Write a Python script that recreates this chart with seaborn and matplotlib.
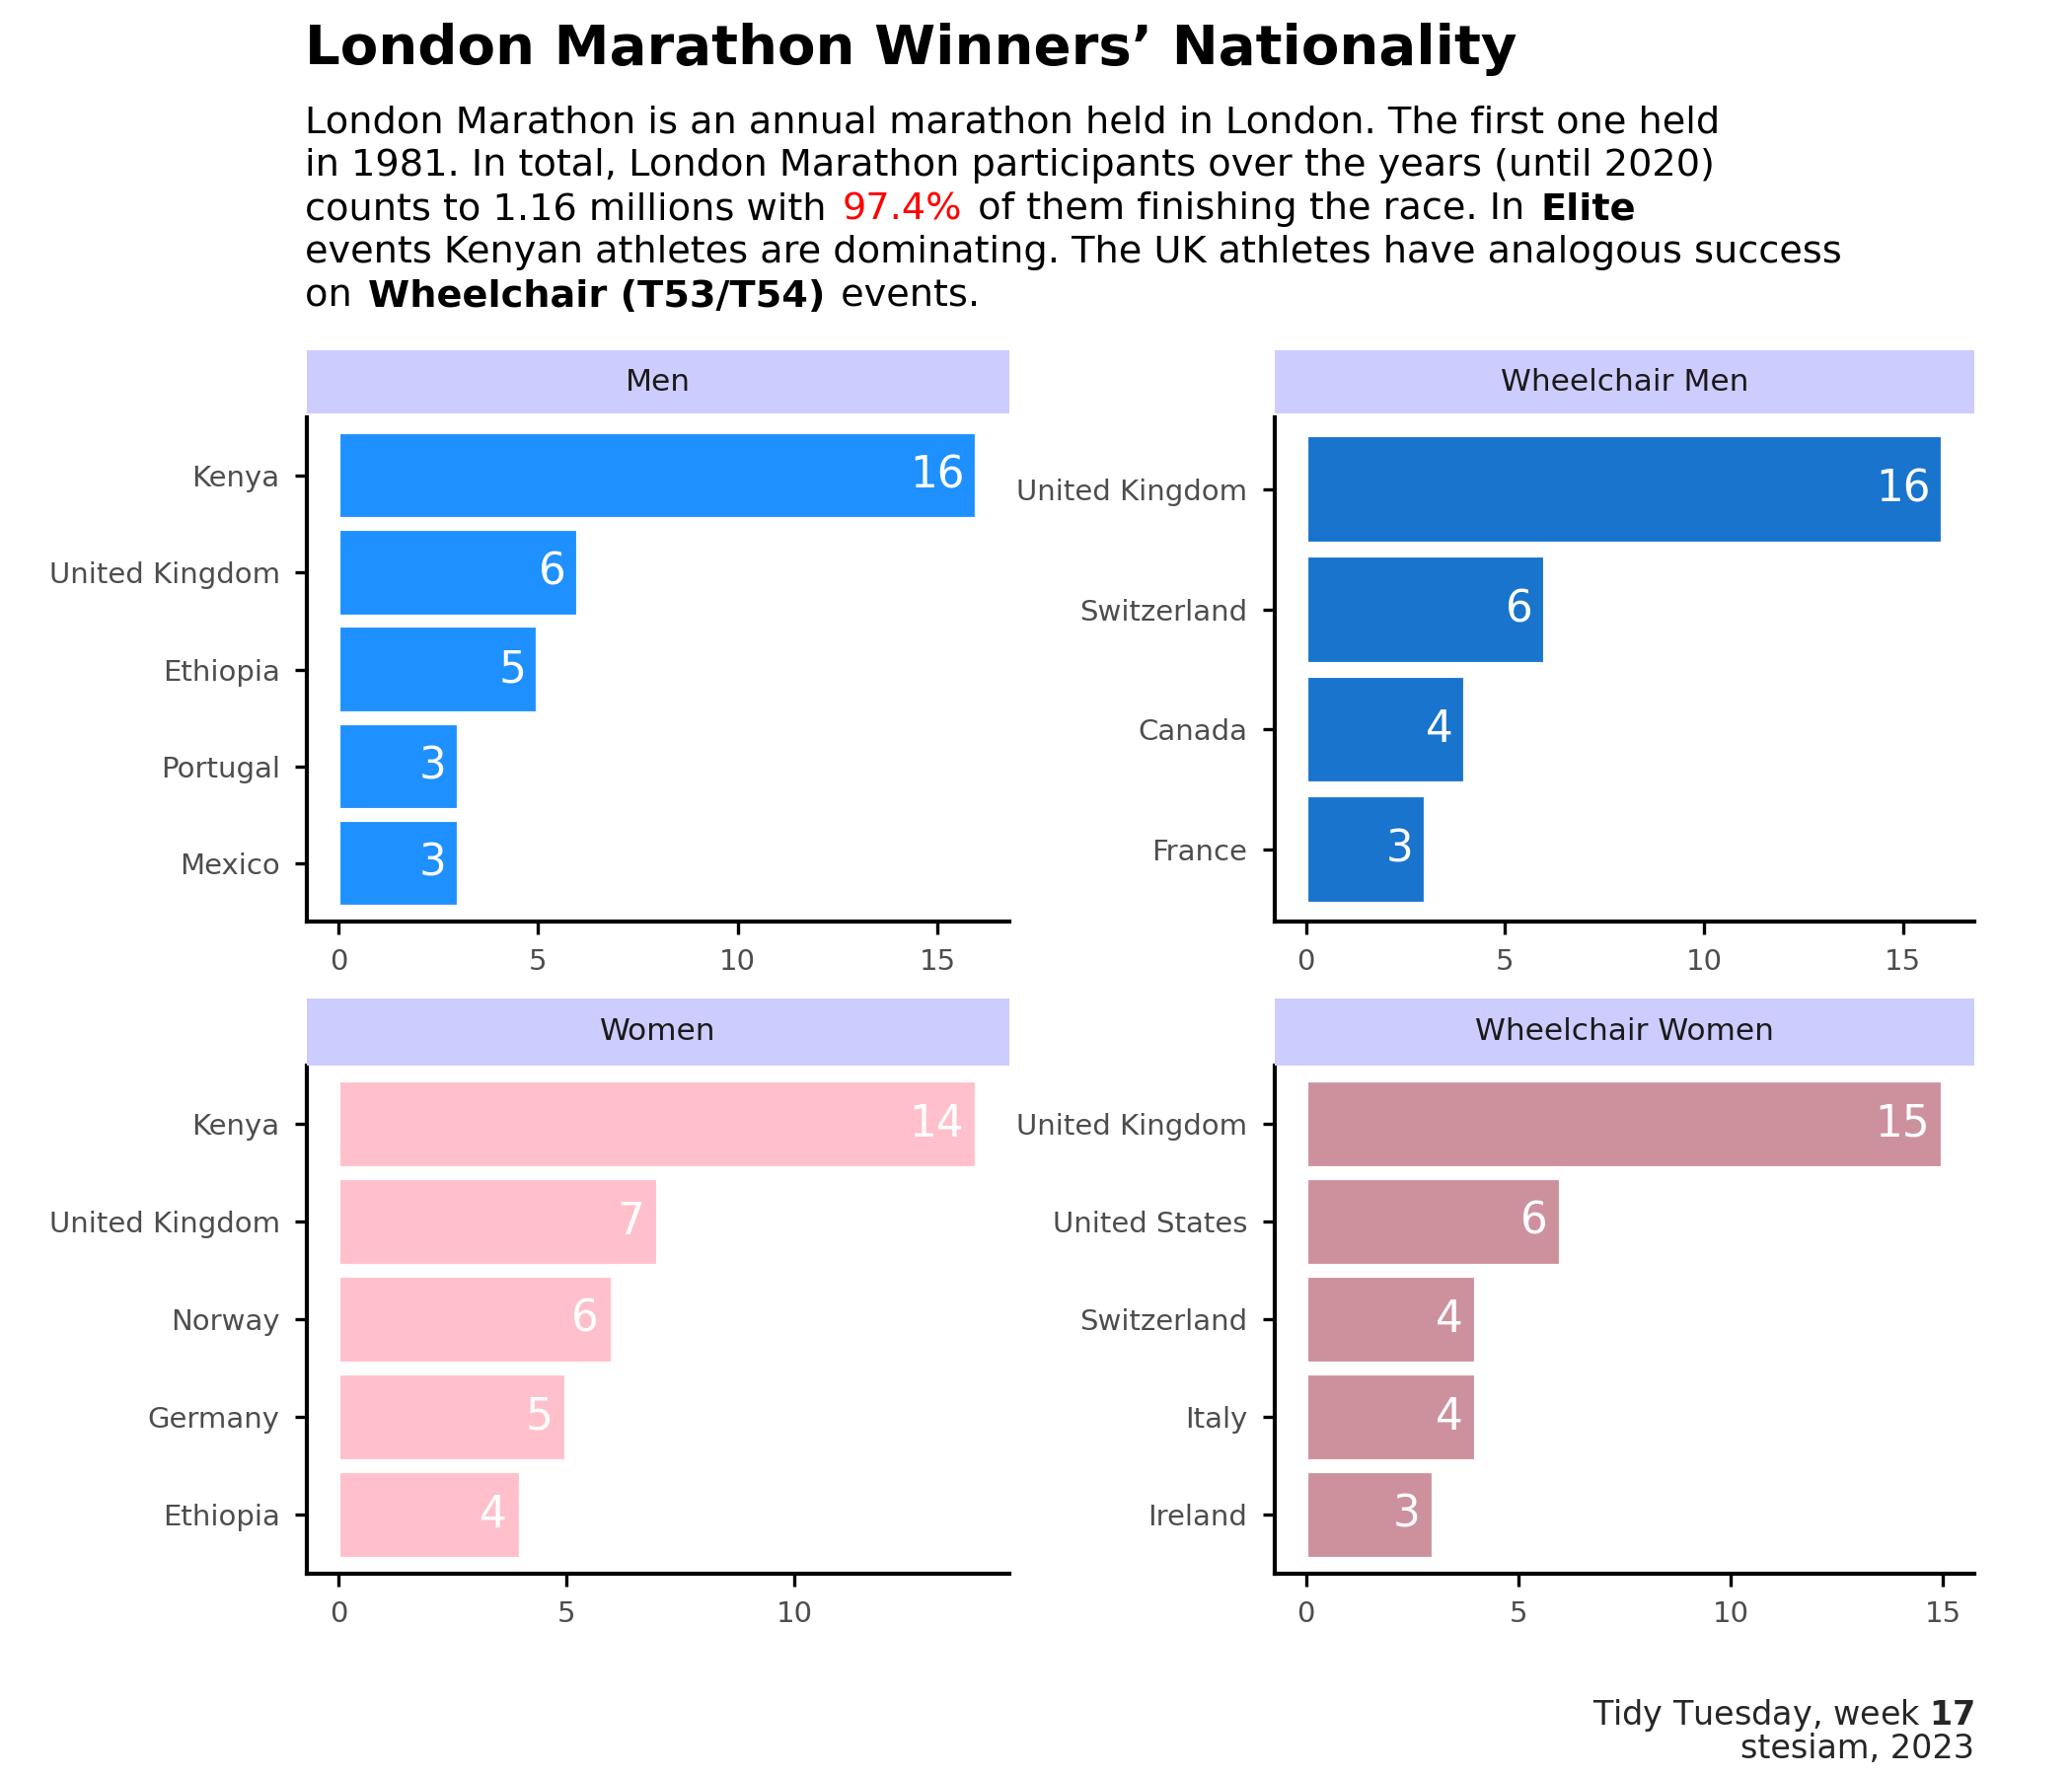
import matplotlib
matplotlib.use("Agg")
import matplotlib.pyplot as plt
import seaborn as sns
import pandas as pd

# data
men_countries = ["Kenya", "United Kingdom", "Ethiopia", "Portugal", "Mexico"]
men_wins = [16, 6, 5, 3, 3]
wmen_countries = ["United Kingdom", "Switzerland", "Canada", "France"]
wmen_wins = [16, 6, 4, 3]
women_countries = ["Kenya", "United Kingdom", "Norway", "Germany", "Ethiopia"]
women_wins = [14, 7, 6, 5, 4]
wwomen_countries = ["United Kingdom", "United States", "Switzerland", "Italy", "Ireland"]
wwomen_wins = [15, 6, 4, 4, 3]

sns.set_style("white")
fam = ["DejaVu Sans"]
plt.rcParams["font.family"] = fam

fig = plt.figure(figsize=(7, 6), dpi=300)

panels = [
    ("Men", men_countries, men_wins, "#1E90FF", [0.148, 0.481, 0.339, 0.284], [0.148, 0.767, 0.339, 0.036]),
    ("Wheelchair Men", wmen_countries, wmen_wins, "#1874CD", [0.615, 0.481, 0.338, 0.284], [0.615, 0.767, 0.338, 0.036]),
    ("Women", women_countries, women_wins, "#FFC0CB", [0.148, 0.114, 0.339, 0.286], [0.148, 0.400, 0.339, 0.038]),
    ("Wheelchair Women", wwomen_countries, wwomen_wins, "#CD919E", [0.615, 0.114, 0.338, 0.286], [0.615, 0.400, 0.338, 0.038]),
]

for name, countries, wins, color, rect, srect in panels:
    ax = fig.add_axes(rect)
    df = pd.DataFrame({"country": countries, "wins": wins})
    sns.barplot(data=df, x="wins", y="country", orient="h", color=color,
                width=0.9, saturation=1, ax=ax)
    mx = max(wins)
    ax.set_xlim(-0.05 * mx, mx * 1.05)
    ax.set_ylim(len(countries) - 0.4, -0.6)
    for i, v in enumerate(wins):
        ax.text(v - 0.3, i, str(v), color="white", ha="right", va="center", fontsize=10.5)
    ax.set_xlabel("")
    ax.set_ylabel("")
    ax.set_xticks([t for t in [0, 5, 10, 15] if t <= mx * 1.05])
    for s in ["top", "right"]:
        ax.spines[s].set_visible(False)
    for s in ["left", "bottom"]:
        ax.spines[s].set_color("black")
        ax.spines[s].set_linewidth(1.0)
    ax.tick_params(axis="both", labelcolor="#4D4D4D", color="black", labelsize=7,
                   length=3, width=0.8, direction="out", left=True, bottom=True)
    sax = fig.add_axes(srect)
    sax.set_facecolor("#CCCCFF")
    sax.set_xticks([])
    sax.set_yticks([])
    for s in sax.spines.values():
        s.set_visible(False)
    sax.text(0.5, 0.5, name, ha="center", va="center", fontsize=7.5, color="#1A1A1A",
             transform=sax.transAxes)

# title and subtitle
fig.text(0.147, 0.972, "London Marathon Winners\u2019 Nationality", fontsize=13.5,
         fontweight="bold", color="black", va="center")

lines = [
    [("London Marathon is an annual marathon held in London. The first one held", "k", "normal")],
    [("in 1981. In total, London Marathon participants over the years (until 2020)", "k", "normal")],
    [("counts to 1.16 millions with ", "k", "normal"), ("97.4%", "red", "normal"),
     (" of them finishing the race. In ", "k", "normal"), ("Elite", "k", "bold")],
    [("events Kenyan athletes are dominating. The UK athletes have analogous success", "k", "normal")],
    [("on ", "k", "normal"), ("Wheelchair (T53/T54)", "k", "bold"), (" events.", "k", "normal")],
]
fig.canvas.draw()
r = fig.canvas.get_renderer()
y0 = 0.931
for li, parts in enumerate(lines):
    x = 0.147
    y = y0 - li * 0.0245
    for txt, c, w in parts:
        t = fig.text(x, y, txt, fontsize=9.2, color=c, fontweight=w, va="center")
        bb = t.get_window_extent(renderer=r)
        x += bb.width / fig.bbox.width + 0.002

fig.text(0.953, 0.034, "Tidy Tuesday, week $\\bf{17}$", ha="right", va="center", fontsize=8)
fig.text(0.953, 0.015, "stesiam, 2023", ha="right", va="center", fontsize=8)

fig.savefig("out.png", dpi=300, facecolor="white")
